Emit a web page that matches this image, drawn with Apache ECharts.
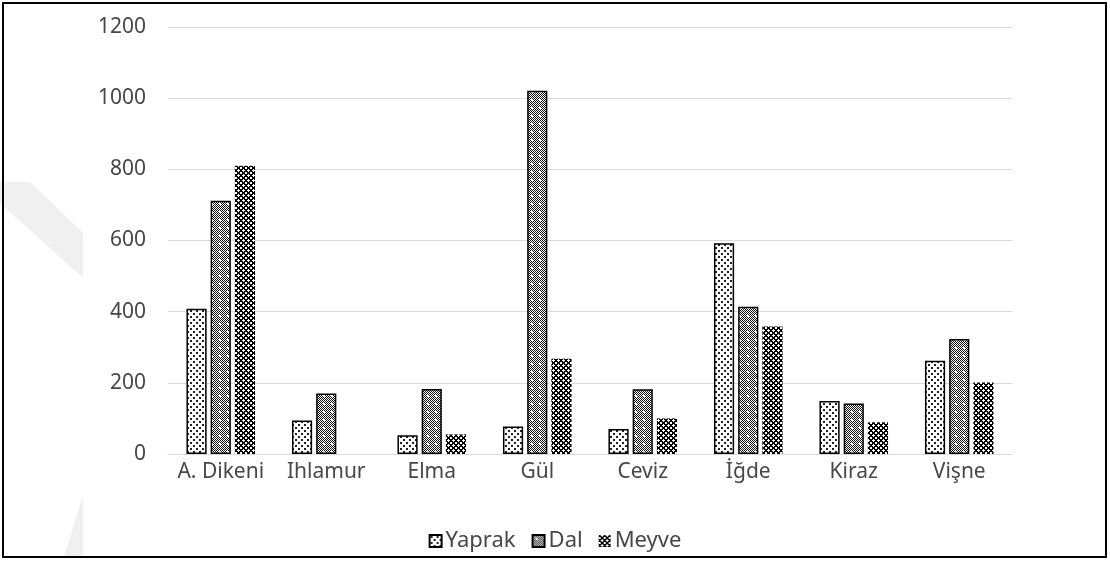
<!DOCTYPE html>
<html>
<head>
<meta charset="utf-8">
<script src="https://cdn.jsdelivr.net/npm/echarts@6/dist/echarts.min.js"></script>
<style>
html,body{margin:0;padding:0;background:#fff;}
#chart{width:1110px;height:563px;}
</style>
</head>
<body>
<div id="chart"></div>
<script>
const categories = ['A. Dikeni', 'Ihlamur', 'Elma', 'Gül', 'Ceviz', 'İğde', 'Kiraz', 'Vişne'];
const yaprak = [408, 94, 53, 77, 70, 592, 149, 262];
const dal = [712, 170, 183, 1021, 182, 414, 142, 323];
const meyve = [810, 0, 55, 268, 100, 358, 89, 201];
const yTicks = [0, 200, 400, 600, 800, 1000, 1200];

function makePattern(size, draw) {
  const c = document.createElement('canvas');
  c.width = size; c.height = size;
  const ctx = c.getContext('2d');
  draw(ctx, size);
  return { image: c, repeat: 'repeat' };
}
const patYaprak = makePattern(6, (ctx) => {
  ctx.fillStyle = '#fff'; ctx.fillRect(0, 0, 6, 6);
  ctx.fillStyle = '#222';
  ctx.fillRect(1, 1, 2, 2);
  ctx.fillRect(4, 4, 2, 2);
});
const patDal = makePattern(8, (ctx) => {
  ctx.fillStyle = '#fff'; ctx.fillRect(0, 0, 8, 8);
  ctx.fillStyle = '#111';
  for (let y = 0; y < 8; y++) for (let x = 0; x < 8; x++) if ((x + y) % 2 === 0) ctx.fillRect(x, y, 1, 1);
  ctx.fillStyle = '#fff';
  ctx.fillRect(3, 3, 2, 2);
});
const patMeyve = makePattern(5, (ctx) => {
  ctx.fillStyle = '#fff'; ctx.fillRect(0, 0, 5, 5);
  ctx.fillStyle = '#000';
  for (let y = 0; y < 5; y++) for (let x = 0; x < 5; x++) {
    const a = (x + y) % 5, b = (x - y + 5) % 5;
    if (a <= 1 || b <= 1) ctx.fillRect(x, y, 1, 1);
  }
});

const chart = echarts.init(document.getElementById('chart'), null, { renderer: 'canvas' });
const font = 'Noto Sans';
const txt = '#474747';
chart.setOption({
  backgroundColor: '#fff',
  animation: false,
  graphic: [
    { type: 'polygon', z: -1, shape: { points: [[0,182],[30,182],[83,233],[83,278],[0,203]] }, style: { fill: '#f0f0f0' } },
    { type: 'polygon', z: -1, shape: { points: [[83,495],[83,557],[64,557]] }, style: { fill: '#f0f0f0' } },
    { type: 'rect', z: 100, shape: { x: 3, y: 3, width: 1103, height: 554 }, style: { fill: 'none', stroke: '#000', lineWidth: 2 } }
  ],
  grid: { left: 168, right: 98, top: 27, bottom: 109, containLabel: false },
  legend: {
    data: ['Yaprak', 'Dal', 'Meyve'],
    icon: 'rect',
    top: 525,
    left: 'center',
    itemWidth: 12,
    itemHeight: 12,
    itemGap: 16,
    textStyle: { fontFamily: font, fontSize: 22, color: txt, padding: [0, 0, 0, -1] }
  },
  xAxis: {
    type: 'category',
    data: categories,
    axisLine: { lineStyle: { color: '#d9d9d9', width: 1 } },
    axisTick: { show: false },
    axisLabel: { fontFamily: font, fontSize: 21, color: txt, margin: 6, interval: 0, lineHeight: 24 }
  },
  yAxis: {
    type: 'value',
    min: 0,
    max: 1200,
    interval: 200,
    axisLine: { show: false },
    axisTick: { show: false },
    splitLine: { lineStyle: { color: '#d9d9d9', width: 1 } },
    axisLabel: {
      fontFamily: font, fontSize: 21, color: txt, margin: 22,
      formatter: (v) => yTicks.includes(v) ? String(v) : ''
    }
  },
  series: [
    { name: 'Yaprak', type: 'bar', data: yaprak, barGap: '20%', barCategoryGap: '35%',
      itemStyle: { color: patYaprak, borderColor: '#000', borderWidth: 1.5 } },
    { name: 'Dal', type: 'bar', data: dal, barGap: '20%', barCategoryGap: '35%',
      itemStyle: { color: patDal, borderColor: '#000', borderWidth: 1.5 } },
    { name: 'Meyve', type: 'bar', data: meyve, barGap: '20%', barCategoryGap: '35%',
      itemStyle: { color: patMeyve } }
  ]
});
</script>
</body>
</html>
